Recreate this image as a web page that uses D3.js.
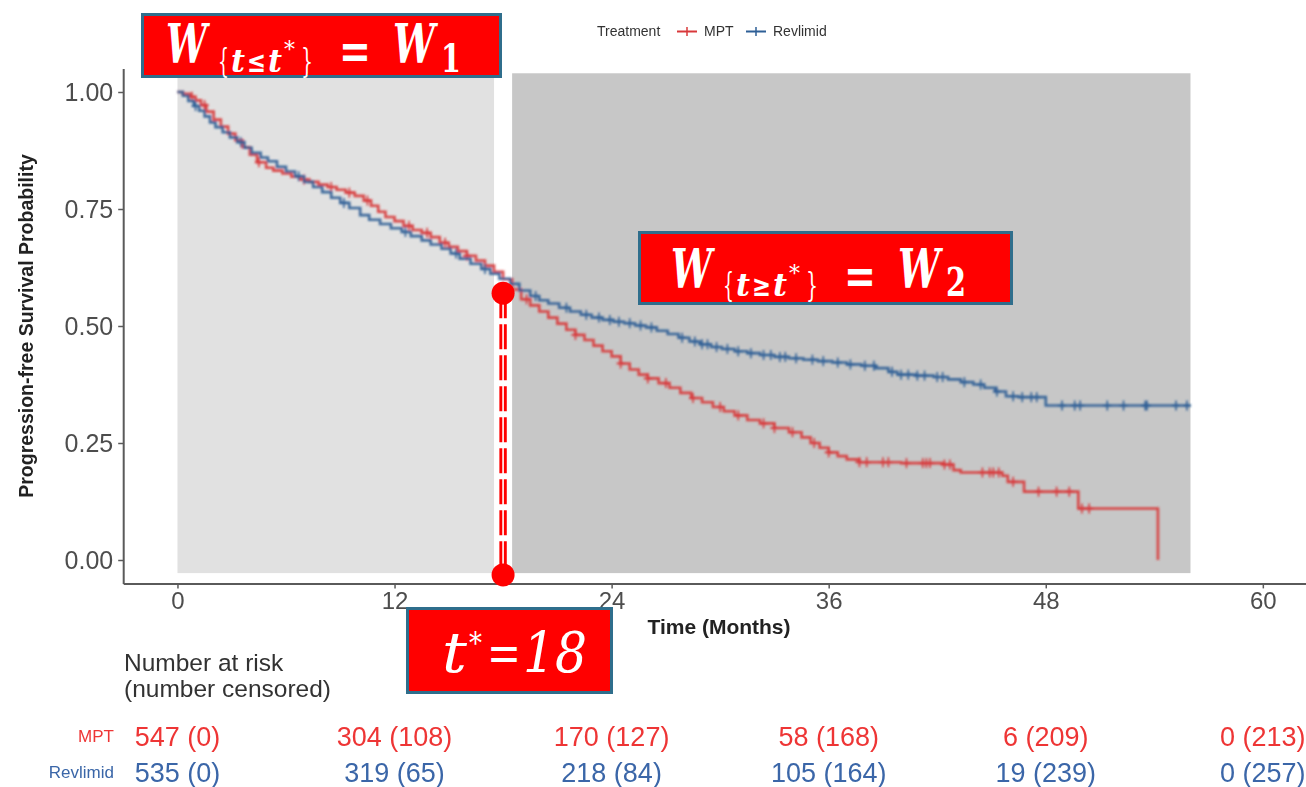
<!DOCTYPE html>
<html>
<head>
<meta charset="utf-8">
<script src="https://cdn.jsdelivr.net/npm/d3@7"></script>
<style>
  html, body { margin: 0; padding: 0; background: #ffffff; }
  svg { display: block; }
</style>
</head>
<body>
<svg id="chart" width="1306" height="787"></svg>
<script>
// ---- Kaplan–Meier step points: [month, progression-free survival] ----
const mptSteps = [
  [0,1.000],[0.3,0.996],[0.7,0.990],[1.0,0.982],[1.3,0.972],[1.6,0.958],[2.0,0.941],[2.4,0.926],
  [2.8,0.911],[3.2,0.897],[3.6,0.882],[4.0,0.866],[4.4,0.850],[4.9,0.838],[5.3,0.832],[5.8,0.826],
  [6.3,0.819],[6.8,0.813],[7.3,0.808],[7.8,0.802],[8.3,0.797],[8.8,0.791],[9.3,0.785],[9.8,0.778],
  [10.3,0.768],[10.7,0.757],[11.1,0.744],[11.5,0.733],[12.0,0.724],[12.5,0.714],[13.0,0.705],[13.5,0.699],
  [14.0,0.690],[14.5,0.678],[15.0,0.669],[15.5,0.660],[16.0,0.650],[16.5,0.640],[17.0,0.629],[17.5,0.616],
  [18.0,0.600],[18.5,0.578],[19.0,0.557],[19.5,0.544],[20.0,0.531],[20.5,0.518],[21.0,0.505],[21.5,0.492],
  [22.0,0.481],[22.5,0.470],[23.0,0.458],[23.5,0.446],[24.0,0.435],[24.5,0.420],[25.0,0.407],[25.5,0.396],
  [26.0,0.388],[26.6,0.378],[27.2,0.368],[27.8,0.357],[28.4,0.346],[29.0,0.337],[29.6,0.327],[30.2,0.318],
  [30.8,0.309],[31.5,0.299],[32.2,0.292],[33.0,0.282],[33.8,0.273],[34.5,0.262],[35.0,0.250],[35.5,0.240],
  [36.0,0.230],[36.5,0.222],[37.0,0.215],[37.7,0.209],[40.0,0.207],[42.3,0.204],[42.9,0.192],[43.3,0.187],
  [45.6,0.180],[45.9,0.167],[46.8,0.146],[49.8,0.110],[54.2,0.000]
];
const revSteps = [
  [0,1.000],[0.3,0.992],[0.6,0.981],[0.9,0.970],[1.2,0.960],[1.5,0.948],[1.8,0.935],[2.1,0.925],
  [2.5,0.914],[2.9,0.903],[3.3,0.893],[3.7,0.881],[4.1,0.870],[4.6,0.860],[5.0,0.852],[5.5,0.840],
  [6.0,0.830],[6.5,0.820],[7.0,0.808],[7.5,0.797],[8.0,0.786],[8.5,0.774],[9.0,0.763],[9.5,0.752],
  [10.1,0.737],[10.6,0.727],[11.2,0.718],[11.8,0.709],[12.4,0.701],[12.9,0.692],[13.5,0.683],[14.0,0.674],
  [14.6,0.665],[15.1,0.655],[15.6,0.644],[16.2,0.633],[16.8,0.622],[17.3,0.612],[17.8,0.601],[18.4,0.590],
  [18.9,0.576],[19.5,0.564],[20.0,0.555],[20.5,0.548],[21.1,0.539],[21.7,0.531],[22.3,0.524],[22.9,0.518],
  [23.5,0.513],[24.1,0.509],[24.7,0.506],[25.3,0.501],[25.9,0.497],[26.5,0.490],[27.1,0.483],[27.7,0.475],
  [28.3,0.467],[28.9,0.461],[29.5,0.455],[30.1,0.451],[30.8,0.446],[31.5,0.442],[32.2,0.438],[33.0,0.434],
  [33.8,0.431],[34.6,0.428],[35.4,0.425],[36.2,0.422],[37.0,0.418],[37.8,0.415],[38.6,0.410],[39.3,0.402],
  [39.8,0.396],[40.8,0.394],[41.8,0.391],[42.6,0.386],[43.3,0.380],[44.0,0.375],[44.6,0.368],[45.2,0.360],
  [45.8,0.350],[46.5,0.348],[48.0,0.330],[56.0,0.330]
];

// ---- censoring times (months) ----
const mptCensor = [0.8,1.5,4.5,7.0,8.5,9.5,10.5,12.8,13.8,14.8,16.0,19.3,22.0,24.5,26.0,27.0,28.5,30.0,
  31.0,32.4,33.0,34.0,35.2,36.0,37.7,38.1,39.0,39.3,40.3,41.2,41.4,41.6,42.4,42.7,44.5,44.9,45.1,45.4,
  46.2,47.6,48.6,49.3,50.0,50.4];
const revCensor = [1.0,3.5,6.7,9.2,12.6,15.4,17.0,19.8,21.5,22.6,23.3,23.9,24.4,25.0,25.6,26.2,27.9,28.6,
  29.0,29.3,29.8,30.4,31.0,31.7,32.4,32.8,33.3,33.6,34.2,35.1,35.7,36.5,37.2,38.0,38.5,39.5,40.0,40.4,
  40.9,41.3,42.0,42.3,43.5,44.4,45.3,46.2,46.7,47.2,47.5,48.9,49.6,49.9,51.4,52.3,53.5,53.6,55.2,55.8];

// ---- axes ----
const xTicks = [0, 12, 24, 36, 48, 60];
const yTicks = [0, 0.25, 0.5, 0.75, 1];

// ---- number at risk table ----
const riskTimes = [0, 12, 24, 36, 48, 60];
const mptAtRisk = [547, 304, 170, 58, 6, 0];
const mptCensored = [0, 108, 127, 168, 209, 213];
const revAtRisk = [535, 319, 218, 105, 19, 0];
const revCensored = [0, 65, 84, 164, 239, 257];

// ---- weighting windows around the change point ----
const tStar = 18;
const windows = [[0, 17.5], [18.5, 56]];
const markTop = 0.57, markBottom = -0.032;

// ---------------------------------------------------------------
const svg = d3.select("#chart");
const sans = "Liberation Sans, Arial, Helvetica, sans-serif";
const serif = "DejaVu Serif, Liberation Serif, serif";
const RED_LINE = "#d8393b", BLUE_LINE = "#2f5f96";
const RED_TXT = "#ee3535", BLUE_TXT = "#3a66a8";

const x = d3.scaleLinear().domain([-3, 63]).range([123.2, 1317.1]);
const y = d3.scaleLinear().domain([-0.05, 1.05]).range([583.4, 68.6]);

const defs = svg.append("defs");
defs.append("filter").attr("id", "soft")
  .append("feGaussianBlur").attr("stdDeviation", 0.8);
defs.append("filter").attr("id", "softText")
  .append("feGaussianBlur").attr("stdDeviation", 0.45);

// shaded windows
const panelFill = ["#e1e1e1", "#c7c7c7"];
svg.append("g").selectAll("rect").data(windows).join("rect")
  .attr("x", d => x(d[0]))
  .attr("width", d => x(d[1]) - x(d[0]))
  .attr("y", y(1.04))
  .attr("height", y(-0.028) - y(1.04))
  .attr("fill", (d, i) => panelFill[i]);

// axes
const gy = svg.append("g")
  .attr("transform", `translate(${x(-3)},0)`)
  .call(d3.axisLeft(y).tickValues(yTicks).tickFormat(d3.format(".2f"))
    .tickSize(5).tickSizeOuter(0).tickPadding(5))
  .attr("font-family", sans).attr("font-size", 25);
const gx = svg.append("g")
  .attr("transform", `translate(0,${y(-0.05)})`)
  .call(d3.axisBottom(x).tickValues(xTicks).tickSize(5).tickSizeOuter(0).tickPadding(4))
  .attr("font-family", sans).attr("font-size", 24);
[gx, gy].forEach(g => {
  g.select(".domain").attr("stroke", "#5a5a5a").attr("stroke-width", 2);
  g.selectAll(".tick line").attr("stroke", "#5a5a5a").attr("stroke-width", 1.5);
  g.selectAll(".tick text").attr("fill", "#4d4d4d").attr("filter", "url(#softText)");
});

// axis titles
svg.append("text")
  .attr("transform", `translate(33,${y(0.5)}) rotate(-90)`)
  .attr("text-anchor", "middle").attr("font-family", sans).attr("font-weight", "bold")
  .attr("font-size", 19.5).attr("fill", "#222").attr("filter", "url(#softText)")
  .text("Progression-free Survival Probability");
svg.append("text")
  .attr("x", 719).attr("y", 634)
  .attr("text-anchor", "middle").attr("font-family", sans).attr("font-weight", "bold")
  .attr("font-size", 21).attr("fill", "#222").attr("filter", "url(#softText)")
  .text("Time (Months)");

// survival curves
function stepAt(steps, t) {
  let v = steps[0][1];
  for (const [tt, s] of steps) { if (tt <= t) v = s; else break; }
  return v;
}
const line = d3.line().x(d => x(d[0])).y(d => y(d[1])).curve(d3.curveStepAfter);
const series = [
  { steps: mptSteps, censor: mptCensor, color: RED_LINE },
  { steps: revSteps, censor: revCensor, color: BLUE_LINE }
];
const curves = svg.append("g").attr("filter", "url(#soft)");
series.forEach(s => {
  curves.append("path").datum(s.steps)
    .attr("d", line).attr("fill", "none")
    .attr("stroke", s.color).attr("stroke-width", 2.6).attr("stroke-opacity", 0.92);
  const marks = curves.append("g").selectAll("g").data(s.censor).join("g")
    .attr("transform", t => `translate(${x(t)},${y(stepAt(s.steps, t))})`);
  marks.append("line").attr("x1", 0).attr("x2", 0).attr("y1", -5).attr("y2", 5)
    .attr("stroke", s.color).attr("stroke-width", 1.6);
  marks.append("line").attr("x1", -4).attr("x2", 4).attr("y1", 0).attr("y2", 0)
    .attr("stroke", s.color).attr("stroke-width", 2);
});

// legend
const legend = svg.append("g").attr("font-family", sans).attr("font-size", 14)
  .attr("fill", "#333").attr("filter", "url(#softText)");
legend.append("text").attr("x", 597).attr("y", 36).text("Treatment");
[{ label: "MPT", color: RED_LINE, x0: 677 }, { label: "Revlimid", color: BLUE_LINE, x0: 746 }]
  .forEach(k => {
    legend.append("line").attr("x1", k.x0).attr("x2", k.x0 + 20).attr("y1", 31.5).attr("y2", 31.5)
      .attr("stroke", k.color).attr("stroke-width", 2);
    legend.append("line").attr("x1", k.x0 + 10).attr("x2", k.x0 + 10).attr("y1", 27).attr("y2", 36)
      .attr("stroke", k.color).attr("stroke-width", 1.5);
    legend.append("text").attr("x", k.x0 + 27).attr("y", 36).text(k.label);
  });

// change-point marker
const mx = x(tStar);
const marker = svg.append("g");
marker.append("line").attr("x1", mx).attr("x2", mx)
  .attr("y1", y(markTop)).attr("y2", y(markBottom))
  .attr("stroke", "#ff0000").attr("stroke-width", 7.4).attr("stroke-dasharray", "25 6");
marker.append("line").attr("x1", mx).attr("x2", mx)
  .attr("y1", y(markTop) + 10).attr("y2", y(markBottom))
  .attr("stroke", "#ffffff").attr("stroke-width", 1.6);
marker.selectAll("circle").data([markTop, markBottom]).join("circle")
  .attr("cx", mx).attr("cy", d => y(d)).attr("r", 11.5).attr("fill", "#ff0000");

// number at risk table
const table = svg.append("g").attr("font-family", sans).attr("filter", "url(#softText)");
table.append("text").attr("x", 124).attr("y", 671).attr("font-size", 24.5).attr("fill", "#333")
  .text("Number at risk");
table.append("text").attr("x", 124).attr("y", 697).attr("font-size", 24.5).attr("fill", "#333")
  .text("(number censored)");
const rows = [
  { label: "MPT", n: mptAtRisk, c: mptCensored, color: RED_TXT, yb: 746 },
  { label: "Revlimid", n: revAtRisk, c: revCensored, color: BLUE_TXT, yb: 782 }
];
rows.forEach(r => {
  table.append("text").attr("x", 114).attr("y", r.yb - 4).attr("text-anchor", "end")
    .attr("font-size", 17).attr("fill", r.color).text(r.label);
  table.append("g").selectAll("text").data(riskTimes).join("text")
    .attr("x", t => x(t)).attr("y", r.yb).attr("text-anchor", "middle")
    .attr("font-size", 27).attr("fill", r.color)
    .text((t, i) => `${r.n[i]} (${r.c[i]})`);
});

// annotation boxes
function box(x0, y0, w, h) {
  svg.append("rect").attr("x", x0).attr("y", y0).attr("width", w).attr("height", h)
    .attr("fill", "#ff0000").attr("stroke", "#2f6e8c").attr("stroke-width", 3);
}
// one glyph group of a formula, squeezed horizontally to a set advance width
function piece(p) {
  const t = svg.append("text").attr("x", 0).attr("y", 0)
    .attr("font-family", serif).attr("font-size", p.size)
    .attr("font-weight", p.weight || "bold").attr("font-style", p.style || "italic")
    .attr("fill", "#ffffff").text(p.txt);
  const w = t.node().getComputedTextLength() || p.len;
  t.attr("transform", `translate(${p.x},${p.y}) scale(${p.len / w},1)`);
}
// W_{t rel t*} = W_k, laid out from the left edge of its first glyph
function weightLabel(x0, yMain, ySub, rel, k) {
  [
    { txt: "W", x: x0, y: yMain, size: 54, len: 41 },
    { txt: "{", x: x0 + 52, y: ySub, size: 34, len: 11, weight: "normal", style: "normal" },
    { txt: "t", x: x0 + 65, y: ySub, size: 32, len: 14 },
    { txt: rel, x: x0 + 81, y: ySub, size: 30, len: 19, style: "normal" },
    { txt: "t", x: x0 + 102, y: ySub, size: 32, len: 14 },
    { txt: "*", x: x0 + 118, y: ySub - 15, size: 22, len: 11, weight: "normal", style: "normal" },
    { txt: "}", x: x0 + 135, y: ySub, size: 34, len: 12, weight: "normal", style: "normal" },
    { txt: "=", x: x0 + 173, y: yMain + 5, size: 50, len: 32, style: "normal" },
    { txt: "W", x: x0 + 227, y: yMain, size: 54, len: 42 },
    { txt: k, x: x0 + 275, y: ySub, size: 40, len: 20, style: "normal" }
  ].forEach(piece);
}

box(142.5, 14.5, 358, 62);
weightLabel(166, 63, 72, "\u2264", "1");

box(639.5, 232.5, 372, 71);
weightLabel(671, 288, 296, "\u2265", "2");

box(407.5, 608.5, 204, 84);
[
  { txt: "t", x: 442, y: 672, size: 56, len: 25, weight: "normal" },
  { txt: "*", x: 469, y: 653, size: 30, len: 13, weight: "normal", style: "normal" },
  { txt: "=", x: 487, y: 671, size: 52, len: 34, weight: "normal" },
  { txt: "18", x: 523, y: 672, size: 56, len: 64, weight: "normal" }
].forEach(piece);
</script>
</body>
</html>
